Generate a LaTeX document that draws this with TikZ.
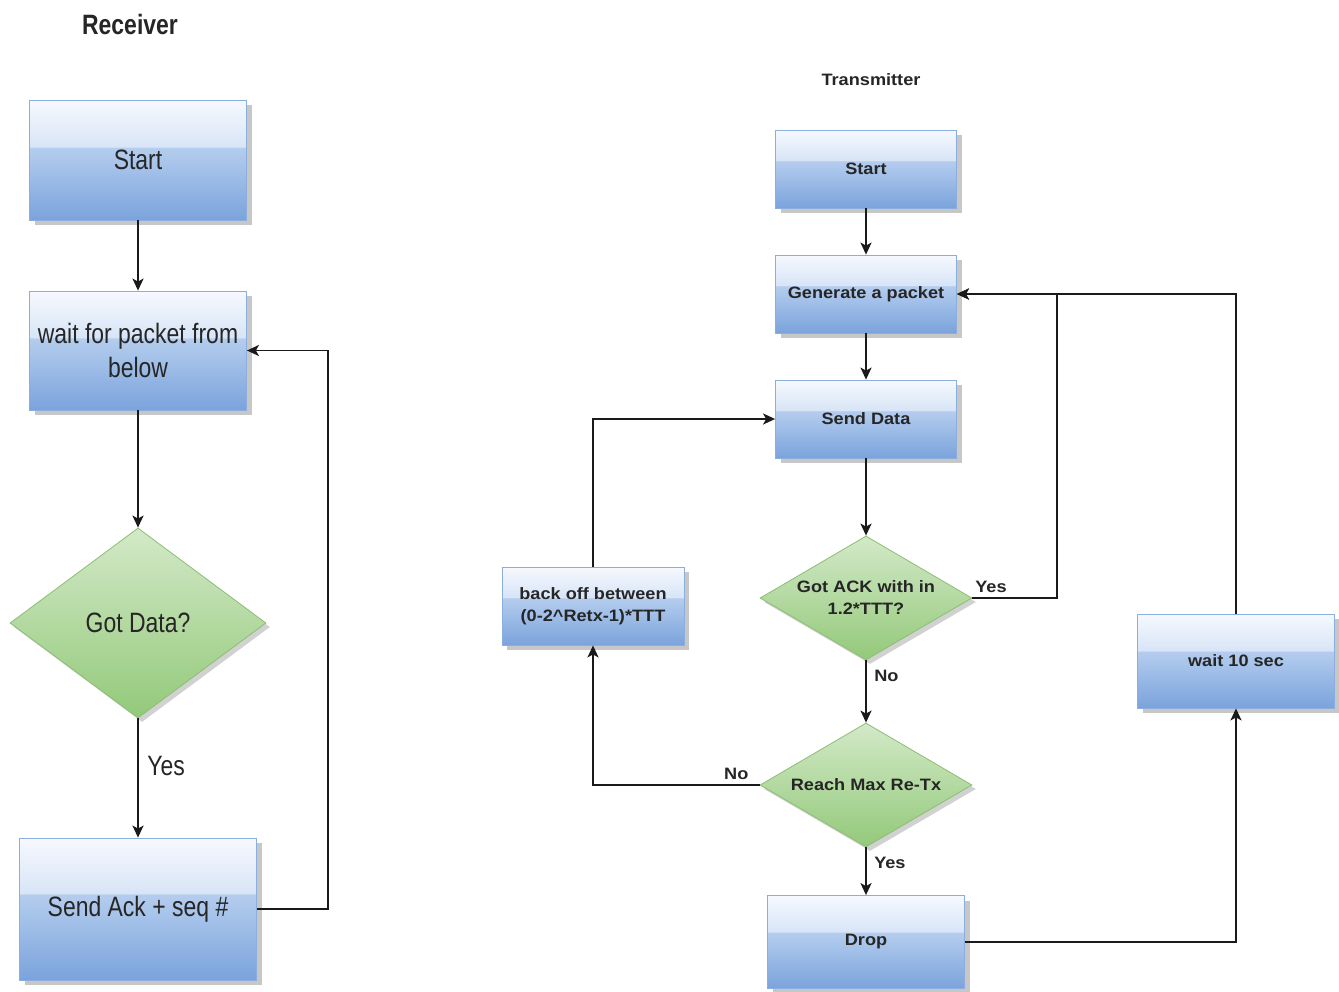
\documentclass[tikz,border=0pt]{standalone}
\usepackage{fontspec}
\setmainfont{Liberation Sans}
\newfontfamily\rfont[FakeStretch=0.82]{Liberation Sans}
\newfontfamily\tfont[FakeStretch=1.1]{Liberation Sans}
\usetikzlibrary{shapes.geometric,arrows.meta,shadows}
\definecolor{btop}{HTML}{F6F9FE}
\definecolor{bhi}{HTML}{D8E5F7}
\definecolor{blo}{HTML}{B4CDEE}
\definecolor{bbot}{HTML}{7BA3DC}
\definecolor{bborder}{HTML}{8AAEDD}
\definecolor{gtop}{HTML}{D3E9C8}
\definecolor{gbot}{HTML}{93C97A}
\definecolor{gborder}{HTML}{8CBE74}
\definecolor{linec}{HTML}{1A1A1A}
\pgfdeclareverticalshading{boxshade}{100bp}{color(0bp)=(bbot); color(25bp)=(bbot); color(55bp)=(blo); color(55.6bp)=(bhi); color(75bp)=(btop); color(100bp)=(btop)}
\pgfdeclareverticalshading{greenshade}{100bp}{color(0bp)=(gbot); color(25bp)=(gbot); color(75bp)=(gtop); color(100bp)=(gtop)}
\tikzset{
  bluebox/.style={rectangle, shading=boxshade, draw=bborder, line width=0.8pt, inner sep=2pt, align=center,
    drop shadow={shadow xshift=5pt, shadow yshift=-5pt, fill=black!22, opacity=1}},
  greendia/.style={diamond, shading=greenshade, draw=gborder, line width=0.8pt, inner sep=0pt, align=center,
    drop shadow={shadow xshift=4pt, shadow yshift=-4pt, fill=black!18, opacity=1}},
  rtext/.style={font=\rfont\fontsize{28}{34}\selectfont, text=black!85},
  ttext/.style={font=\tfont\bfseries\fontsize{16.5}{22}\selectfont, text=black!85},
  arr/.style={draw=linec, line width=1.9pt, -{Stealth[length=12pt,width=11pt,inset=3pt]}}
}
\begin{document}
\begin{tikzpicture}[x=1pt,y=-1pt]
\useasboundingbox (0,0) rectangle (1339,991);
\fill[white] (0,0) rectangle (1339,991);
% Receiver
\node[font=\rfont\bfseries\fontsize{28}{34}\selectfont, text=black!85] (rtitle) at (130,24) {Receiver};
\node[bluebox, rtext, minimum width=217pt, minimum height=120pt] (rs) at (138,160) {Start};
\node[bluebox, rtext, minimum width=217pt, minimum height=119pt] (rw) at (138,350.5) {wait for packet from\\below};
\node[greendia, rtext, aspect=1.35, minimum width=256pt, minimum height=190pt] (rd) at (138,623) {Got Data?};
\node[bluebox, rtext, minimum width=237pt, minimum height=142pt] (ra) at (138,909) {Send Ack + seq \#};
\coordinate (rloop) at (328,0);
\draw[arr] (rs.south) -- (rw.north);
\draw[arr] (rw.south) -- (rd.north);
\draw[arr] (rd.south) -- node[pos=0.4, right=5pt, rtext] (ryes) {Yes} (ra.north);
\draw[arr] (ra.east) -- (ra.east -| rloop) -- (rw.east -| rloop) -- (rw.east);
% Transmitter
\node[ttext] (ttitle) at (871,80) {Transmitter};
\node[bluebox, ttext, minimum width=181pt, minimum height=78pt] (ts) at (866,169) {Start};
\node[bluebox, ttext, minimum width=181pt, minimum height=78pt] (tg) at (866,294) {Generate a packet};
\node[bluebox, ttext, minimum width=181pt, minimum height=78pt] (td) at (866,419) {Send Data};
\node[greendia, ttext, aspect=1.75, minimum width=212pt, minimum height=124pt] (tack) at (866,598) {Got ACK with in\\1.2*TTT?};
\node[greendia, ttext, aspect=1.75, minimum width=212pt, minimum height=124pt] (tmax) at (866,785) {Reach Max Re-Tx};
\node[bluebox, ttext, minimum width=197pt, minimum height=93pt] (tdrop) at (866,942) {Drop};
\node[bluebox, ttext, minimum width=182pt, minimum height=78pt] (tback) at (593,606) {back off between\\(0-2\^{}Retx-1)*TTT};
\node[bluebox, ttext, minimum width=197pt, minimum height=94pt] (twait) at (1236,661) {wait 10 sec};
\coordinate (yesx) at (1057,0);
\draw[arr] (ts.south) -- (tg.north);
\draw[arr] (tg.south) -- (td.north);
\draw[arr] (td.south) -- (tack.north);
\draw[arr] (tack.south) -- node[pos=0.25, right=4pt, ttext] (tno1) {No} (tmax.north);
\draw[arr] (tack.east) -- node[pos=0.22, above=1pt, ttext] (tyes1) {Yes} (tack.east -| yesx) |- (tg.east);
\draw[arr] (tmax.west) -- node[pos=0.14, above=1pt, ttext] (tno2) {No} (tmax.west -| tback.south) -- (tback.south);
\draw[arr] (tback.north) |- (td.west);
\draw[arr] (tmax.south) -- node[pos=0.33, right=4pt, ttext] (tyes2) {Yes} (tdrop.north);
\draw[arr] (tdrop.east) -| (twait.south);
\draw[arr] (twait.north) |- (tg.east);
\end{tikzpicture}
\end{document}
